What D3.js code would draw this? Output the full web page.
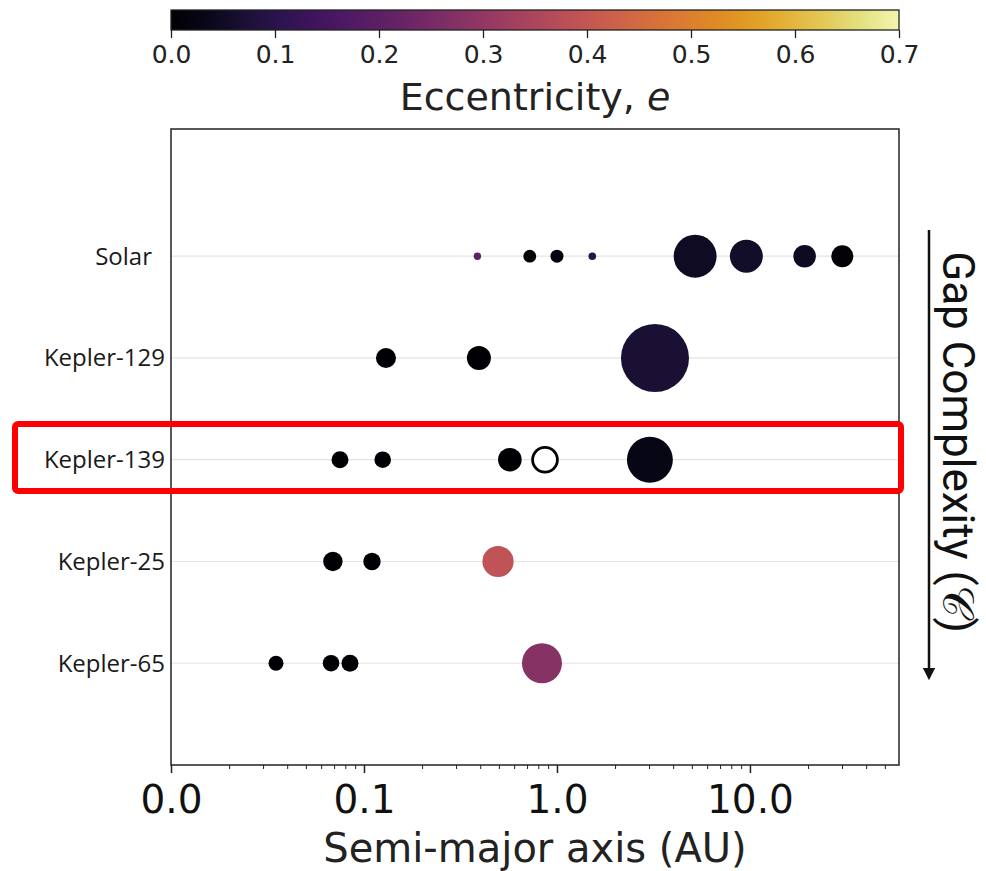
<!DOCTYPE html>
<html>
<head>
<meta charset="utf-8">
<script src="https://cdn.jsdelivr.net/npm/d3@7"></script>
<style>
  html, body { margin: 0; padding: 0; background: #fff; }
  svg { display: block; }
</style>
</head>
<body>
<svg id="chart" width="986" height="871"></svg>
<script>
// Planetary systems, ordered by gap complexity (top to bottom)
const systems = ["Solar", "Kepler-129", "Kepler-139", "Kepler-25", "Kepler-65"];

// One entry per planet
const planetSystem = [
  "Solar", "Solar", "Solar", "Solar", "Solar", "Solar", "Solar", "Solar",
  "Kepler-129", "Kepler-129", "Kepler-129",
  "Kepler-139", "Kepler-139", "Kepler-139", "Kepler-139", "Kepler-139",
  "Kepler-25", "Kepler-25", "Kepler-25",
  "Kepler-65", "Kepler-65", "Kepler-65", "Kepler-65"
];
// Semi-major axis (AU)
const planetA = [
  0.387, 0.723, 1.0, 1.524, 5.2, 9.58, 19.2, 30.1,
  0.130, 0.394, 3.22,
  0.0751, 0.125, 0.570, 0.867, 3.03,
  0.069, 0.110, 0.495,
  0.035, 0.0675, 0.0846, 0.836
];
// Eccentricity (null = unknown)
const planetEcc = [
  0.206, 0.007, 0.017, 0.093, 0.049, 0.057, 0.046, 0.009,
  0.0, 0.0, 0.07,
  0.0, 0.0, 0.0, null, 0.03,
  0.0, 0.0, 0.39,
  0.0, 0.0, 0.0, 0.28
];
// Relative planet size
const planetSize = [
  0.32, 0.97, 1.0, 0.34, 10.9, 6.44, 3.0, 2.86,
  2.37, 3.41, 27.4,
  1.71, 1.63, 3.3, 4.44, 12.5,
  2.23, 1.79, 5.76,
  1.33, 1.63, 1.71, 9.47
];

const xTicks = [0.01, 0.1, 1, 10];
const eccTicks = [0, 0.1, 0.2, 0.3, 0.4, 0.5, 0.6, 0.7];

const svg = d3.select("#chart");
const plotLeft = 171, plotRight = 899, plotTop = 129, plotBottom = 765;

const x = d3.scaleLog().domain([0.01, 59.2]).range([plotLeft, plotRight]);
const y = d3.scaleLinear().domain([-1.25, 5]).range([plotTop, plotBottom]);

// Inferno, slightly muted
const muted = t => {
  const c = d3.hsl(d3.interpolateInferno(t));
  c.s *= 0.78;
  return c.formatHex();
};
const color = d3.scaleSequential(muted).domain([0, 0.7]);
const r = d3.scaleSqrt().domain([0, 1]).range([0, 6.5]);

// ---- Colorbar ----
const cbTop = 10, cbH = 20;
const cbX = d3.scaleLinear().domain([0, 0.7]).range([plotLeft, plotRight]);
const defs = svg.append("defs");
const grad = defs.append("linearGradient").attr("id", "ecc-grad")
  .attr("x1", "0%").attr("x2", "100%").attr("y1", "0%").attr("y2", "0%");
d3.range(0, 1.0001, 0.05).forEach(t => {
  grad.append("stop").attr("offset", (t * 100) + "%")
    .attr("stop-color", muted(t));
});
svg.append("rect")
  .attr("x", plotLeft).attr("y", cbTop)
  .attr("width", plotRight - plotLeft).attr("height", cbH)
  .attr("fill", "url(#ecc-grad)")
  .attr("stroke", "#222").attr("stroke-width", 1.3);

const cbAxis = svg.append("g")
  .attr("transform", `translate(0,${cbTop + cbH})`)
  .call(d3.axisBottom(cbX).tickValues(eccTicks).tickFormat(d3.format(".1f"))
    .tickSize(8).tickPadding(7));
cbAxis.select(".domain").remove();
cbAxis.selectAll("line").attr("stroke", "#222").attr("stroke-width", 1.3);
cbAxis.selectAll("text")
  .attr("font-family", "DejaVu Sans").attr("font-size", 25).attr("fill", "#222");

svg.append("text")
  .attr("x", (plotLeft + plotRight) / 2).attr("y", 110)
  .attr("text-anchor", "middle")
  .attr("font-family", "DejaVu Sans").attr("font-size", 38).attr("fill", "#222")
  .html('Eccentricity, <tspan font-style="italic">e</tspan>');

// ---- Gridlines ----
svg.append("g").selectAll("line")
  .data(systems).join("line")
  .attr("x1", plotLeft).attr("x2", plotRight)
  .attr("y1", (d, i) => y(i)).attr("y2", (d, i) => y(i))
  .attr("stroke", "#e4e4e4").attr("stroke-width", 1.2);

// ---- Planets ----
const planets = planetA.map((a, i) => ({
  system: planetSystem[i], a, e: planetEcc[i], size: planetSize[i]
}));
svg.append("g").selectAll("circle")
  .data(planets).join("circle")
  .attr("cx", d => x(d.a))
  .attr("cy", d => y(systems.indexOf(d.system)))
  .attr("r", d => d.e === null ? r(d.size) - 1.3 : r(d.size))
  .attr("fill", d => d.e === null ? "#fff" : color(d.e))
  .attr("stroke", d => d.e === null ? "#000" : "none")
  .attr("stroke-width", d => d.e === null ? 2.8 : 0);

// ---- Frame ----
svg.append("rect")
  .attr("x", plotLeft).attr("y", plotTop)
  .attr("width", plotRight - plotLeft).attr("height", plotBottom - plotTop)
  .attr("fill", "none").attr("stroke", "#222").attr("stroke-width", 1.5);

// ---- X axis ----
const minorTicks = [];
for (let p = -2; p <= 1; p++) {
  for (let m = 2; m <= 9; m++) {
    const v = m * Math.pow(10, p);
    if (v < 59.2) minorTicks.push(v);
  }
}
const xMinor = svg.append("g").attr("transform", `translate(0,${plotBottom})`)
  .call(d3.axisBottom(x).tickValues(minorTicks).tickFormat("").tickSize(4));
xMinor.select(".domain").remove();
xMinor.selectAll("line").attr("stroke", "#222").attr("stroke-width", 1);

const xAxis = svg.append("g").attr("transform", `translate(0,${plotBottom})`)
  .call(d3.axisBottom(x).tickValues(xTicks).tickFormat(d3.format(".1f"))
    .tickSize(8).tickPadding(12));
xAxis.select(".domain").remove();
xAxis.selectAll("line").attr("stroke", "#222").attr("stroke-width", 1.5);
xAxis.selectAll("text")
  .attr("font-family", "DejaVu Sans").attr("font-size", 39).attr("fill", "#111");

svg.append("text")
  .attr("x", (plotLeft + plotRight) / 2).attr("y", 862)
  .attr("text-anchor", "middle")
  .attr("font-family", "DejaVu Sans").attr("font-size", 40).attr("fill", "#222")
  .text("Semi-major axis (AU)");

// ---- System labels ----
svg.append("g").selectAll("text")
  .data(systems).join("text")
  .attr("x", d => d === "Solar" ? 152 : 165)
  .attr("y", (d, i) => y(i))
  .attr("dy", "0.35em")
  .attr("text-anchor", "end")
  .attr("font-family", "Open Sans").attr("font-size", 24).attr("fill", "#1a1a1a")
  .text(d => d);

// ---- Highlight box ----
svg.append("rect")
  .attr("x", 15).attr("y", 424)
  .attr("width", 886).attr("height", 67)
  .attr("rx", 3)
  .attr("fill", "none").attr("stroke", "#ff0000").attr("stroke-width", 6);

// ---- Gap complexity arrow ----
defs.append("marker").attr("id", "arrowhead")
  .attr("viewBox", "0 0 10 10").attr("refX", 5).attr("refY", 5)
  .attr("markerWidth", 5).attr("markerHeight", 5).attr("orient", "auto")
  .append("path").attr("d", "M0,0 L10,5 L0,10 Z").attr("fill", "#111");
svg.append("line")
  .attr("x1", 929).attr("x2", 929).attr("y1", 230).attr("y2", 674)
  .attr("stroke", "#111").attr("stroke-width", 2.5)
  .attr("marker-end", "url(#arrowhead)");

svg.append("text")
  .attr("transform", "translate(943,442) rotate(90)")
  .attr("text-anchor", "middle")
  .attr("font-family", "Roboto").attr("font-size", 44).attr("fill", "#111")
  .text("Gap Complexity (𝒞)");
</script>
</body>
</html>
